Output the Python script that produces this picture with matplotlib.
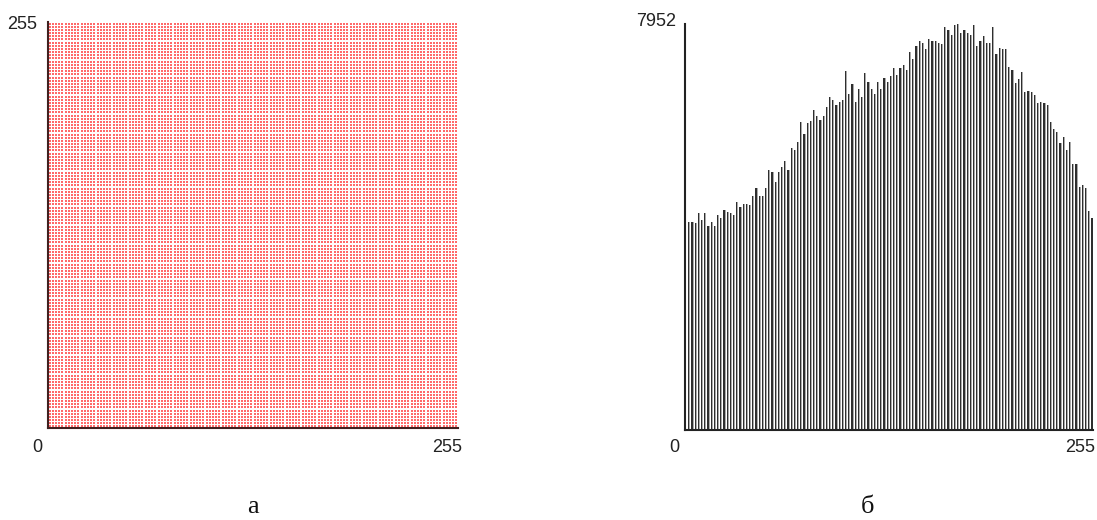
import numpy as np
import matplotlib
matplotlib.use("Agg")
import matplotlib.pyplot as plt

# Left panel: uniform 2D grid of levels (every 2nd level 0..254)
grid_levels = list(range(0, 256, 2))

# Right panel: histogram counts, one bar per 2 levels (levels 2..254)
hist_levels = list(range(2, 256, 2))
hist_counts = [
    4083, 4083, 4052, 4248, 4116, 4248, 3999, 4083, 3999, 4208,
    4150, 4312, 4273, 4248, 4208, 4463, 4365, 4430, 4430, 4404,
    4587, 4737, 4587, 4587, 4737, 5083, 5057, 4867, 5057, 5149,
    5273, 5083, 5522, 5488, 5645, 6023, 5796, 6012, 6043, 6272,
    6141, 6076, 6141, 6325, 6521, 6455, 6364, 6423, 6455, 7023,
    6586, 6776, 6423, 6678, 6521, 6992, 6808, 6678, 6586, 6808,
    6678, 6900, 6808, 6939, 7090, 6958, 7090, 7141, 7051, 7395,
    7272, 7521, 7611, 7580, 7462, 7650, 7619, 7619, 7580, 7552,
    7893, 7835, 7737, 7925, 7952, 7768, 7835, 7768, 7737, 7925,
    7521, 7619, 7709, 7580, 7580, 7893, 7364, 7488, 7462, 7462,
    7115, 7051, 6802, 6866, 7017, 6611, 6645, 6611, 6553, 6396,
    6423, 6396, 6364, 6023, 5894, 5835, 5620, 5737, 5488, 5645,
    5208, 5208, 4769, 4802, 4737, 4299, 4150,
]
y_max_label = "7952"
x_labels = ["0", "255"]
panel_labels = ["а", "б"]

W, H = 1097, 520
fig = plt.figure(figsize=(W / 100, H / 100), dpi=100)

def ax_rect(x0, x1, ytop, ybot):
    return [x0 / W, (H - ybot) / H, (x1 - x0) / W, (ybot - ytop) / H]

# ---- left panel ----
axL = fig.add_axes(ax_rect(48, 458, 22, 428))
gx, gy = np.meshgrid(grid_levels, grid_levels)
axL.scatter(gx.ravel(), gy.ravel(), s=3.4, marker="s", color="#ff3a3a",
            alpha=0.75, linewidths=0)
axL.set_xlim(-1, 255)
axL.set_ylim(-1, 255)
for side in ["top", "right"]:
    axL.spines[side].set_visible(False)
for side in ["left", "bottom"]:
    axL.spines[side].set_color("#402020")
    axL.spines[side].set_linewidth(1.5)
axL.set_xticks([])
axL.set_yticks([])

# ---- right panel ----
axR = fig.add_axes(ax_rect(685, 1093, 24, 430))
axR.bar(hist_levels, hist_counts, width=0.7, align="edge",
        color="#2e2e2e", linewidth=0)
axR.bar([v + 0.7 for v in hist_levels], hist_counts, width=0.65, align="edge",
        color="#aaaaaa", linewidth=0)
axR.set_xlim(0, 255)
axR.set_ylim(0, 7952)
for side in ["top", "right"]:
    axR.spines[side].set_visible(False)
for side in ["left", "bottom"]:
    axR.spines[side].set_color("#222222")
    axR.spines[side].set_linewidth(1.5)
axR.set_xticks([])
axR.set_yticks([])

tick_font = dict(family="Liberation Sans", fontsize=13, color="#222222")

def px_text(x, y, s, ha, va="center", **kw):
    fig.text(x / W, 1 - y / H, s, ha=ha, va=va, **kw)

# left panel labels
px_text(37, 24, "255", "right", **tick_font)
px_text(42, 447, x_labels[0], "right", **tick_font)
px_text(462, 447, x_labels[1], "right", **tick_font)
# right panel labels
px_text(676, 22, y_max_label, "right", **tick_font)
px_text(679, 447, x_labels[0], "right", **tick_font)
px_text(1095, 447, x_labels[1], "right", **tick_font)

serif = dict(family="Liberation Serif", fontsize=19, color="#111111")
px_text(253, 507, panel_labels[0], "center", **serif)
px_text(868, 507, panel_labels[1], "center", **serif)

fig.savefig("out.png", dpi=100)
